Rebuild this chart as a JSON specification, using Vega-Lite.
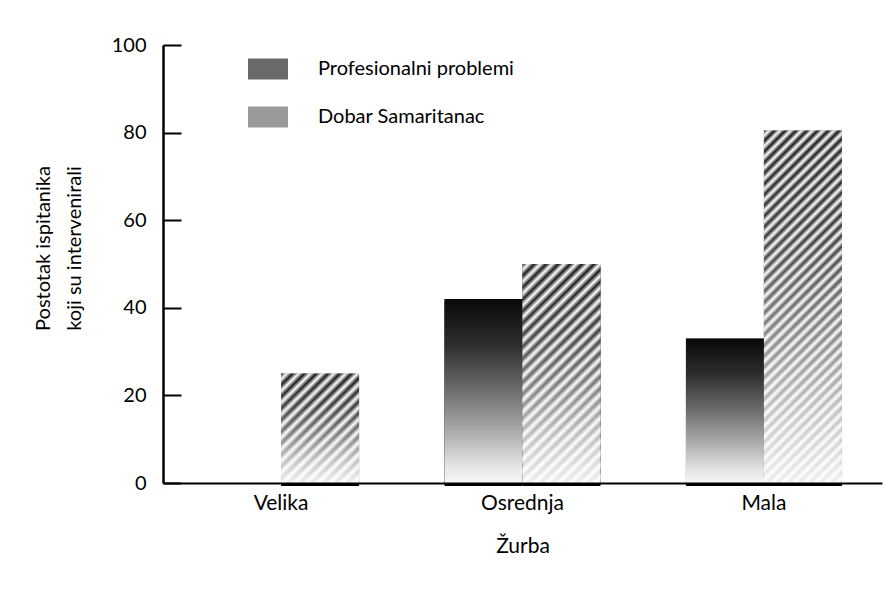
{
  "$schema": "https://vega.github.io/schema/vega-lite/v6.json",
  "width": 719,
  "height": 438,
  "autosize": {"type": "none"},
  "padding": {"left": 163, "top": 45, "right": 1, "bottom": 114},
  "background": "#ffffff",
  "config": {"view": {"stroke": null}, "font": "Lato"},
  "data": {"values": [
    {"zurba": "Velika", "vrsta": "Profesionalni problemi", "postotak": 0},
    {"zurba": "Velika", "vrsta": "Dobar Samaritanac", "postotak": 25},
    {"zurba": "Osrednja", "vrsta": "Profesionalni problemi", "postotak": 42},
    {"zurba": "Osrednja", "vrsta": "Dobar Samaritanac", "postotak": 50},
    {"zurba": "Mala", "vrsta": "Profesionalni problemi", "postotak": 33},
    {"zurba": "Mala", "vrsta": "Dobar Samaritanac", "postotak": 80.5}
  ]},
  "encoding": {
    "x": {"field": "zurba", "type": "nominal", "sort": ["Velika", "Osrednja", "Mala"],
      "scale": {"paddingInner": 0.354, "paddingOuter": 0.166},
      "title": "Žurba",
      "axis": {"ticks": false, "tickSize": 0, "domainColor": "#000", "domainWidth": 2, "labelPadding": 9, "labelFont": "Lato", "labelFontSize": 21, "labelColor": "#000", "labelAngle": 0, "titleFont": "Lato", "titleFontSize": 21, "titleFontWeight": "normal", "titleColor": "#000", "titlePadding": 22, "zindex": 1}},
    "xOffset": {"field": "vrsta", "type": "nominal", "sort": ["Profesionalni problemi", "Dobar Samaritanac"], "scale": {"paddingInner": 0, "paddingOuter": 0}},
    "y": {"field": "postotak", "type": "quantitative", "scale": {"domain": [0, 100]},
      "title": ["Postotak ispitanika", "koji su intervenirali"],
      "axis": {"values": [0, 20, 40, 60, 80, 100], "grid": false, "tickSize": -18, "tickWidth": 2, "tickColor": "#000", "domainColor": "#000", "domainWidth": 2.5, "labelPadding": 35, "labelFont": "Lato", "labelFontSize": 20, "labelColor": "#000", "titleFont": "Lato", "titleFontSize": 20, "titleFontWeight": "normal", "titleColor": "#000", "titlePadding": 27, "titleLineHeight": 31, "titleY": 203, "zindex": 1}}
  },
  "layer": [
    {"mark": {"type": "bar", "fill": "#000", "xOffset": 3, "x2Offset": 3, "yOffset": 3}},
    {"mark": {"type": "bar"},
     "encoding": {"fill": {"field": "vrsta", "type": "nominal",
       "scale": {"domain": ["Profesionalni problemi", "Dobar Samaritanac"], "range": ["#6a6a6a", "#9a9a9a"]},
       "legend": {"orient": "none", "legendX": 85, "legendY": 4, "title": null, "symbolType": "M-1,-0.525H1V0.525H-1Z", "symbolSize": 1600, "symbolStrokeWidth": 0, "labelFont": "Lato", "labelFontSize": 20, "labelColor": "#000", "labelOffset": 30, "labelLimit": 500, "rowPadding": 17, "padding": 0}}}},
    {"transform": [{"filter": "datum.vrsta === 'Profesionalni problemi'"}],
     "mark": {"type": "bar", "fill": {"gradient": "linear", "x1": 0, "y1": 0, "x2": 0, "y2": 1, "stops": [{"offset": 0, "color": "#080808"}, {"offset": 0.25, "color": "#2e2e2e"}, {"offset": 0.5, "color": "#6e6e6e"}, {"offset": 0.75, "color": "#b4b4b4"}, {"offset": 0.9, "color": "#e2e2e2"}, {"offset": 1, "color": "#f7f7f7"}]}}},
    {"transform": [{"filter": "datum.zurba === 'Velika' && datum.vrsta === 'Dobar Samaritanac'"}],
     "mark": {"type": "bar", "fill": {"gradient": "linear", "x1": 0, "y1": 0, "x2": 0.804, "y2": 1.139, "stops": [
       {"offset": 0, "color": "#141414"}, {"offset": 0.03125, "color": "#fff"}, {"offset": 0.0625, "color": "#141414"}, {"offset": 0.09375, "color": "#fff"}, {"offset": 0.125, "color": "#141414"}, {"offset": 0.15625, "color": "#fff"}, {"offset": 0.1875, "color": "#141414"}, {"offset": 0.21875, "color": "#fff"}, {"offset": 0.25, "color": "#141414"}, {"offset": 0.28125, "color": "#fff"}, {"offset": 0.3125, "color": "#141414"}, {"offset": 0.34375, "color": "#fff"}, {"offset": 0.375, "color": "#141414"}, {"offset": 0.40625, "color": "#fff"}, {"offset": 0.4375, "color": "#141414"}, {"offset": 0.46875, "color": "#fff"}, {"offset": 0.5, "color": "#141414"}, {"offset": 0.53125, "color": "#fff"}, {"offset": 0.5625, "color": "#141414"}, {"offset": 0.59375, "color": "#fff"}, {"offset": 0.625, "color": "#141414"}, {"offset": 0.65625, "color": "#fff"}, {"offset": 0.6875, "color": "#141414"}, {"offset": 0.71875, "color": "#fff"}, {"offset": 0.75, "color": "#141414"}, {"offset": 0.78125, "color": "#fff"}, {"offset": 0.8125, "color": "#141414"}, {"offset": 0.84375, "color": "#fff"}, {"offset": 0.875, "color": "#141414"}, {"offset": 0.90625, "color": "#fff"}, {"offset": 0.9375, "color": "#141414"}, {"offset": 0.96875, "color": "#fff"}, {"offset": 1, "color": "#141414"}]}}},
    {"transform": [{"filter": "datum.zurba === 'Osrednja' && datum.vrsta === 'Dobar Samaritanac'"}],
     "mark": {"type": "bar", "fill": {"gradient": "linear", "x1": 0, "y1": 0, "x2": 0.425, "y2": 1.203, "stops": [
       {"offset": 0, "color": "#141414"}, {"offset": 0.02, "color": "#fff"}, {"offset": 0.04, "color": "#141414"}, {"offset": 0.06, "color": "#fff"}, {"offset": 0.08, "color": "#141414"}, {"offset": 0.1, "color": "#fff"}, {"offset": 0.12, "color": "#141414"}, {"offset": 0.14, "color": "#fff"}, {"offset": 0.16, "color": "#141414"}, {"offset": 0.18, "color": "#fff"}, {"offset": 0.2, "color": "#141414"}, {"offset": 0.22, "color": "#fff"}, {"offset": 0.24, "color": "#141414"}, {"offset": 0.26, "color": "#fff"}, {"offset": 0.28, "color": "#141414"}, {"offset": 0.3, "color": "#fff"}, {"offset": 0.32, "color": "#141414"}, {"offset": 0.34, "color": "#fff"}, {"offset": 0.36, "color": "#141414"}, {"offset": 0.38, "color": "#fff"}, {"offset": 0.4, "color": "#141414"}, {"offset": 0.42, "color": "#fff"}, {"offset": 0.44, "color": "#141414"}, {"offset": 0.46, "color": "#fff"}, {"offset": 0.48, "color": "#141414"}, {"offset": 0.5, "color": "#fff"}, {"offset": 0.52, "color": "#141414"}, {"offset": 0.54, "color": "#fff"}, {"offset": 0.56, "color": "#141414"}, {"offset": 0.58, "color": "#fff"}, {"offset": 0.6, "color": "#141414"}, {"offset": 0.62, "color": "#fff"}, {"offset": 0.64, "color": "#141414"}, {"offset": 0.66, "color": "#fff"}, {"offset": 0.68, "color": "#141414"}, {"offset": 0.7, "color": "#fff"}, {"offset": 0.72, "color": "#141414"}, {"offset": 0.74, "color": "#fff"}, {"offset": 0.76, "color": "#141414"}, {"offset": 0.78, "color": "#fff"}, {"offset": 0.8, "color": "#141414"}, {"offset": 0.82, "color": "#fff"}, {"offset": 0.84, "color": "#141414"}, {"offset": 0.86, "color": "#fff"}, {"offset": 0.88, "color": "#141414"}, {"offset": 0.9, "color": "#fff"}, {"offset": 0.92, "color": "#141414"}, {"offset": 0.94, "color": "#fff"}, {"offset": 0.96, "color": "#141414"}, {"offset": 0.98, "color": "#fff"}, {"offset": 1, "color": "#141414"}]}}},
    {"transform": [{"filter": "datum.zurba === 'Mala' && datum.vrsta === 'Dobar Samaritanac'"}],
     "mark": {"type": "bar", "fill": {"gradient": "linear", "x1": 0, "y1": 0, "x2": 0.2568, "y2": 1.164, "stops": [
       {"offset": 0, "color": "#141414"}, {"offset": 0.0125, "color": "#fff"}, {"offset": 0.025, "color": "#141414"}, {"offset": 0.0375, "color": "#fff"}, {"offset": 0.05, "color": "#141414"}, {"offset": 0.0625, "color": "#fff"}, {"offset": 0.075, "color": "#141414"}, {"offset": 0.0875, "color": "#fff"}, {"offset": 0.1, "color": "#141414"}, {"offset": 0.1125, "color": "#fff"}, {"offset": 0.125, "color": "#141414"}, {"offset": 0.1375, "color": "#fff"}, {"offset": 0.15, "color": "#141414"}, {"offset": 0.1625, "color": "#fff"}, {"offset": 0.175, "color": "#141414"}, {"offset": 0.1875, "color": "#fff"}, {"offset": 0.2, "color": "#141414"}, {"offset": 0.2125, "color": "#fff"}, {"offset": 0.225, "color": "#141414"}, {"offset": 0.2375, "color": "#fff"}, {"offset": 0.25, "color": "#141414"}, {"offset": 0.2625, "color": "#fff"}, {"offset": 0.275, "color": "#141414"}, {"offset": 0.2875, "color": "#fff"}, {"offset": 0.3, "color": "#141414"}, {"offset": 0.3125, "color": "#fff"}, {"offset": 0.325, "color": "#141414"}, {"offset": 0.3375, "color": "#fff"}, {"offset": 0.35, "color": "#141414"}, {"offset": 0.3625, "color": "#fff"}, {"offset": 0.375, "color": "#141414"}, {"offset": 0.3875, "color": "#fff"}, {"offset": 0.4, "color": "#141414"}, {"offset": 0.4125, "color": "#fff"}, {"offset": 0.425, "color": "#141414"}, {"offset": 0.4375, "color": "#fff"}, {"offset": 0.45, "color": "#141414"}, {"offset": 0.4625, "color": "#fff"}, {"offset": 0.475, "color": "#141414"}, {"offset": 0.4875, "color": "#fff"}, {"offset": 0.5, "color": "#141414"}, {"offset": 0.5125, "color": "#fff"}, {"offset": 0.525, "color": "#141414"}, {"offset": 0.5375, "color": "#fff"}, {"offset": 0.55, "color": "#141414"}, {"offset": 0.5625, "color": "#fff"}, {"offset": 0.575, "color": "#141414"}, {"offset": 0.5875, "color": "#fff"}, {"offset": 0.6, "color": "#141414"}, {"offset": 0.6125, "color": "#fff"}, {"offset": 0.625, "color": "#141414"}, {"offset": 0.6375, "color": "#fff"}, {"offset": 0.65, "color": "#141414"}, {"offset": 0.6625, "color": "#fff"}, {"offset": 0.675, "color": "#141414"}, {"offset": 0.6875, "color": "#fff"}, {"offset": 0.7, "color": "#141414"}, {"offset": 0.7125, "color": "#fff"}, {"offset": 0.725, "color": "#141414"}, {"offset": 0.7375, "color": "#fff"}, {"offset": 0.75, "color": "#141414"}, {"offset": 0.7625, "color": "#fff"}, {"offset": 0.775, "color": "#141414"}, {"offset": 0.7875, "color": "#fff"}, {"offset": 0.8, "color": "#141414"}, {"offset": 0.8125, "color": "#fff"}, {"offset": 0.825, "color": "#141414"}, {"offset": 0.8375, "color": "#fff"}, {"offset": 0.85, "color": "#141414"}, {"offset": 0.8625, "color": "#fff"}, {"offset": 0.875, "color": "#141414"}, {"offset": 0.8875, "color": "#fff"}, {"offset": 0.9, "color": "#141414"}, {"offset": 0.9125, "color": "#fff"}, {"offset": 0.925, "color": "#141414"}, {"offset": 0.9375, "color": "#fff"}, {"offset": 0.95, "color": "#141414"}, {"offset": 0.9625, "color": "#fff"}, {"offset": 0.975, "color": "#141414"}, {"offset": 0.9875, "color": "#fff"}, {"offset": 1, "color": "#141414"}]}}},
    {"transform": [{"filter": "datum.vrsta === 'Dobar Samaritanac'"}],
     "mark": {"type": "bar", "fill": {"gradient": "linear", "x1": 0, "y1": 0, "x2": 0, "y2": 1, "stops": [{"offset": 0, "color": "rgba(255,255,255,0)"}, {"offset": 0.3, "color": "rgba(255,255,255,0.12)"}, {"offset": 0.55, "color": "rgba(255,255,255,0.4)"}, {"offset": 0.8, "color": "rgba(255,255,255,0.72)"}, {"offset": 1, "color": "rgba(255,255,255,0.92)"}]}}}
  ]
}
